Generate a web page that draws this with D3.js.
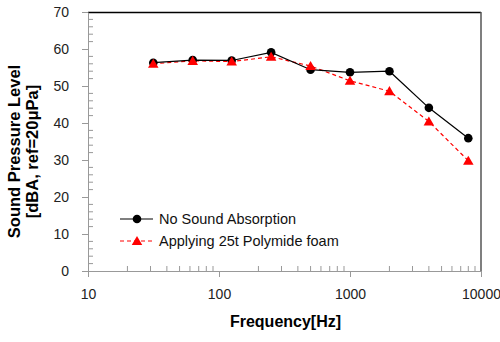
<!DOCTYPE html>
<meta charset="utf-8">
<script src="https://d3js.org/d3.v7.min.js"></script>
<style>
  body { margin: 0; background: #fff; }
  text { font-family: "Liberation Sans", Arial, sans-serif; }
</style>
<body>
<div id="my_dataviz"></div>
<script>

// data
var freqs = [31.5, 63, 125, 250, 500, 1000, 2000, 4000, 8000]
var noAbsorption = [56.3, 57.0, 56.9, 59.1, 54.4, 53.7, 54.0, 44.1, 35.9]
var polymideFoam = [56.0, 56.8, 56.6, 57.9, 55.4, 51.4, 48.6, 40.4, 29.8]
var seriesNames = ["No Sound Absorption", "Applying 25t Polymide foam"]
var xTicks = [10, 100, 1000, 10000]
var yTicks = [0, 10, 20, 30, 40, 50, 60, 70]

var margin = {top: 12, right: 19, bottom: 71, left: 88},
    width = 500 - margin.left - margin.right,
    height = 342 - margin.top - margin.bottom;

var svg = d3.select("#my_dataviz")
  .append("svg")
    .attr("width", 500)
    .attr("height", 342)
  .append("g")
    .attr("transform", "translate(" + margin.left + "," + margin.top + ")");

var x = d3.scaleLog().domain([10, 10000]).range([0, width])
var y = d3.scaleLinear().domain([0, 70]).range([height, 0])

// frame: top black, right dark grey
svg.append("line").attr("x1", 0).attr("x2", width).attr("y1", 0.5).attr("y2", 0.5)
  .attr("stroke", "#000").attr("stroke-width", 1.5)
svg.append("line").attr("x1", width).attr("x2", width).attr("y1", 0).attr("y2", height)
  .attr("stroke", "#555").attr("stroke-width", 1.5)

// minor ticks
var xMinor = []
for (var d = 10; d < 10000; d *= 10)
  for (var k = 2; k <= 9; k++) xMinor.push(d * k)
var yMinor = d3.range(0, 71, 2).filter(function(v) { return v % 10 != 0 })

var grey = "#999"
svg.append("g").selectAll("line").data(xMinor).enter().append("line")
  .attr("x1", function(d) { return x(d) }).attr("x2", function(d) { return x(d) })
  .attr("y1", height).attr("y2", height - 5).attr("stroke", grey)
svg.append("g").selectAll("line").data(yMinor).enter().append("line")
  .attr("x1", 0).attr("x2", 5)
  .attr("y1", function(d) { return y(d) }).attr("y2", function(d) { return y(d) }).attr("stroke", grey)

// axes
var xAxis = svg.append("g")
  .attr("transform", "translate(0," + height + ")")
  .call(d3.axisBottom(x).tickValues(xTicks).tickFormat(d3.format("d")).tickSizeOuter(0).tickSizeInner(6).tickPadding(12))
var yAxis = svg.append("g")
  .call(d3.axisLeft(y).tickValues(yTicks).tickSizeOuter(0).tickSizeInner(6).tickPadding(13))

;[xAxis, yAxis].forEach(function(a) {
  a.select(".domain").attr("stroke", grey)
  a.selectAll(".tick line").attr("stroke", grey)
  a.selectAll(".tick text").attr("font-size", "14px").attr("fill", "#222")
    .attr("font-family", "Liberation Sans, Arial, sans-serif")
})

// series
var line = d3.line()
  .x(function(d) { return x(d[0]) })
  .y(function(d) { return y(d[1]) })

var blackData = d3.zip(freqs, noAbsorption)
var redData = d3.zip(freqs, polymideFoam)
var tri = d3.symbol().type(d3.symbolTriangle).size(48)

svg.append("path").datum(redData).attr("d", line)
  .attr("fill", "none").attr("stroke", "red").attr("stroke-width", 1.2).attr("stroke-dasharray", "4,3")
svg.append("path").datum(blackData).attr("d", line)
  .attr("fill", "none").attr("stroke", "#000").attr("stroke-width", 1.2)

svg.selectAll(".dot").data(blackData).enter().append("circle")
  .attr("cx", function(d) { return x(d[0]) }).attr("cy", function(d) { return y(d[1]) })
  .attr("r", 4.3).attr("fill", "#000")
svg.selectAll(".tri").data(redData).enter().append("path")
  .attr("d", tri).attr("fill", "red")
  .attr("transform", function(d) { return "translate(" + x(d[0]) + "," + (y(d[1]) + 1) + ")" })

// legend
var legend = svg.append("g").attr("transform", "translate(32,207)")
legend.append("line").attr("x1", 0).attr("x2", 33).attr("y1", 0).attr("y2", 0).attr("stroke", "#000").attr("stroke-width", 1.2)
legend.append("circle").attr("cx", 17).attr("cy", 0).attr("r", 4.3).attr("fill", "#000")
legend.append("line").attr("x1", 0).attr("x2", 33).attr("y1", 22).attr("y2", 22).attr("stroke", "red").attr("stroke-width", 1.2).attr("stroke-dasharray", "4,3")
legend.append("path").attr("d", tri).attr("fill", "red").attr("transform", "translate(17,23)")
legend.selectAll(".lab").data(seriesNames).enter().append("text")
  .attr("x", 39).attr("y", function(d, i) { return i * 22 + 5 })
  .attr("font-family", "Lato, sans-serif").attr("font-size", "14.5px").attr("fill", "#111")
  .text(function(d) { return d })

// axis titles
svg.append("text")
  .attr("x", width / 2 + 1).attr("y", height + 56)
  .attr("text-anchor", "middle").attr("font-weight", "bold").attr("font-size", "16px")
  .text("Frequency[Hz]")

var yTitle = svg.append("text")
  .attr("transform", "translate(-68," + (height / 2 + 10) + ") rotate(-90)")
  .attr("text-anchor", "middle").attr("font-weight", "bold").attr("font-size", "16.5px")
yTitle.append("tspan").attr("x", 0).attr("dy", 0).text("Sound Pressure Level")
yTitle.append("tspan").attr("x", 0).attr("dy", 18).text("[dBA, ref=20μPa]")

</script>
</body>
